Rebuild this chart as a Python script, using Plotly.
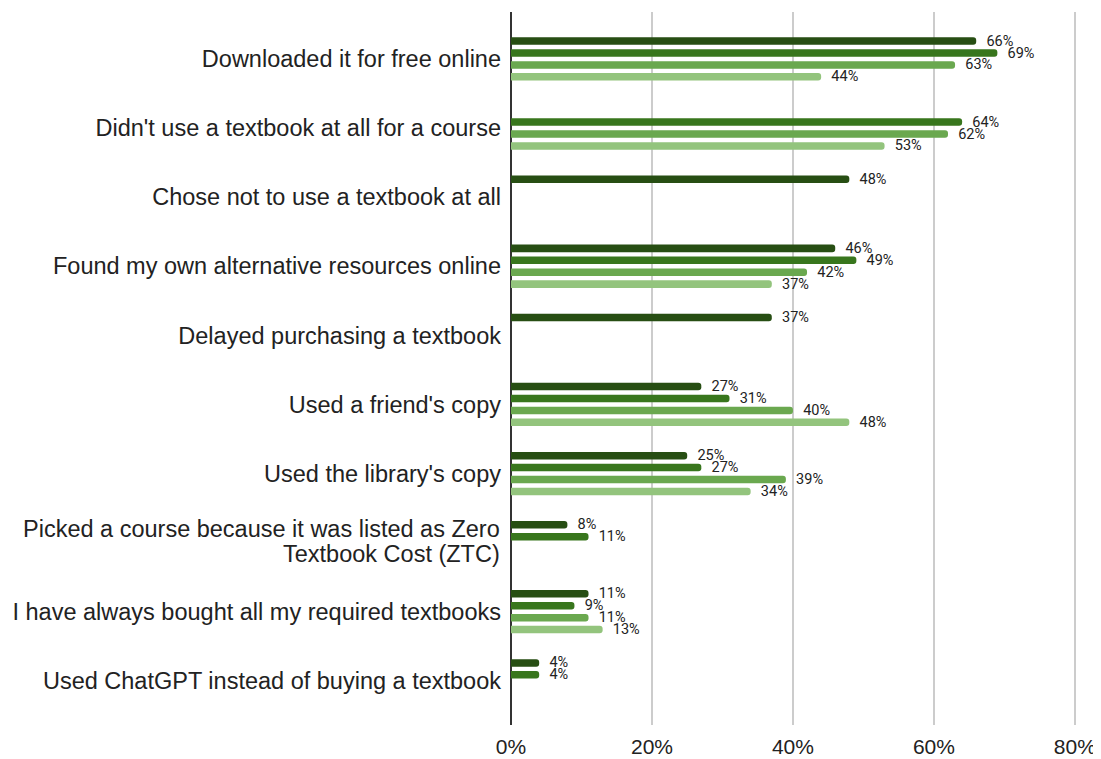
import plotly.graph_objects as go

categories = [
    "Downloaded it for free online",
    "Didn't use a textbook at all for a course",
    "Chose not to use a textbook at all",
    "Found my own alternative resources online",
    "Delayed purchasing a textbook",
    "Used a friend's copy",
    "Used the library's copy",
    "Picked a course because it was listed as Zero Textbook Cost (ZTC)",
    "I have always bought all my required textbooks",
    "Used ChatGPT instead of buying a textbook",
]
# category labels that wrap onto two lines in the chart
wrapped_labels = {
    "Picked a course because it was listed as Zero Textbook Cost (ZTC)":
        ["Picked a course because it was listed as Zero", "Textbook Cost (ZTC)"],
}

series_names = ["Series 1", "Series 2", "Series 3", "Series 4"]
series_1 = [66, None, 48, 46, 37, 27, 25, 8, 11, 4]
series_2 = [69, 64, None, 49, None, 31, 27, 11, 9, 4]
series_3 = [63, 62, None, 42, None, 40, 39, None, 11, None]
series_4 = [44, 53, None, 37, None, 48, 34, None, 13, None]
series_values = [series_1, series_2, series_3, series_4]
colors = ["#274e13", "#38761d", "#6aa84f", "#93c47d"]

x_ticks = [0, 20, 40, 60, 80]
x_tick_labels = ["0%", "20%", "40%", "60%", "80%"]

LABEL_FONT = dict(family="Liberation Sans, Arial", size=23.5, color="#222222")

fig = go.Figure()
for name, vals, col in zip(series_names, series_values, colors):
    fig.add_trace(go.Bar(
        y=categories,
        x=vals,
        name=name,
        orientation="h",
        marker=dict(color=col, line=dict(width=0)),
        text=[("\u00a0\u00a0" + f"{v}%") if v is not None else "" for v in vals],
        textposition="outside",
        textfont=dict(family="Roboto", size=14.5, color="#222222"),
        constraintext="none",
        cliponaxis=False,
        hoverinfo="x+y+name",
    ))

# wrapped category labels drawn as two lines with tighter spacing
LINE_STEP = 25
for cat, lines in wrapped_labels.items():
    n = len(lines)
    for i, line in enumerate(lines):
        fig.add_annotation(
            x=0, xref="x", y=cat, yref="y",
            text=line, showarrow=False,
            xanchor="right", yanchor="middle",
            xshift=-9, yshift=(n - 1) / 2 * LINE_STEP - i * LINE_STEP + 1.5,
            font=LABEL_FONT,
        )

tick_text = ["" if c in wrapped_labels else c for c in categories]

# page body has an 8px margin; compensate so the plot area lands where the reference has it
W, H = 1093, 751
fig.update_layout(
    width=W, height=H,
    barmode="group",
    bargap=0.31,
    bargroupgap=0.37,
    barcornerradius="50%",
    showlegend=False,
    plot_bgcolor="white",
    paper_bgcolor="white",
    margin=dict(l=503, r=24, t=4, b=34, autoexpand=False),
    font=dict(family="Liberation Sans, Arial", color="#222222"),
)
fig.update_xaxes(
    range=[0, 80.3],
    tickvals=x_ticks,
    ticktext=x_tick_labels,
    showgrid=True,
    gridcolor="#cccccc",
    gridwidth=1.5,
    zeroline=True,
    zerolinecolor="#333333",
    zerolinewidth=1.5,
    showline=False,
    ticks="",
    ticklabelstandoff=7,
    tickfont=dict(family="Liberation Sans, Arial", size=21, color="#222222"),
    automargin=False,
    fixedrange=True,
)
fig.update_yaxes(
    categoryorder="array",
    categoryarray=categories,
    tickvals=categories,
    ticktext=tick_text,
    range=[9.64, -0.68],
    showgrid=False,
    zeroline=False,
    showline=False,
    ticks="",
    ticklabelstandoff=9,
    tickfont=LABEL_FONT,
    automargin=False,
    fixedrange=True,
)

fig.write_html("out.html")
